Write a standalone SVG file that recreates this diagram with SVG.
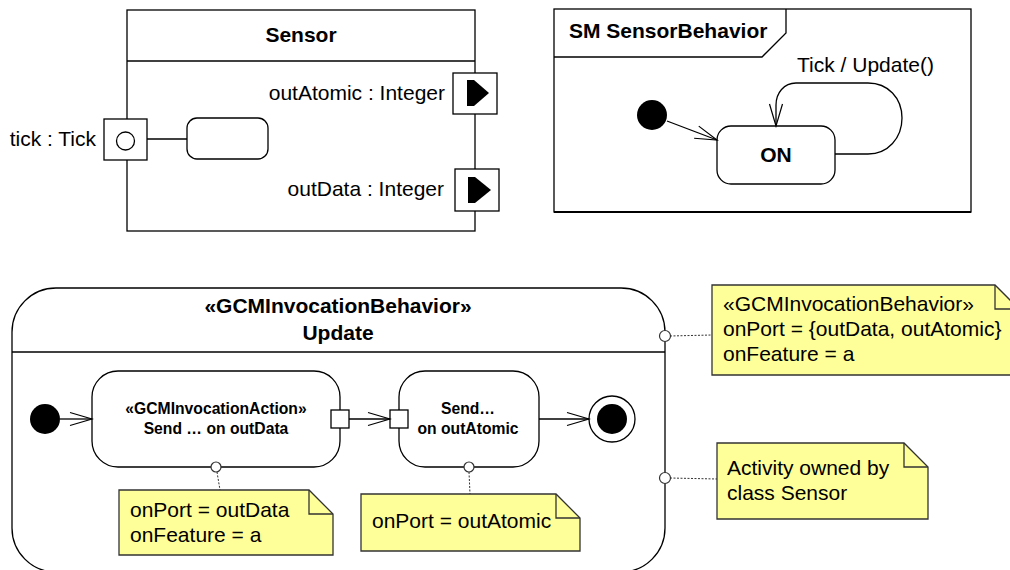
<svg xmlns="http://www.w3.org/2000/svg" width="1010" height="570" viewBox="0 0 1010 570">
<defs>
<style>
.ln{fill:none;stroke:#000;stroke-width:1.3}
.box{fill:#fff;stroke:#000;stroke-width:1.3}
.note{fill:#ffff99;stroke:#333;stroke-width:1.3}
.fold{fill:none;stroke:#333;stroke-width:1.3}
.dash{fill:none;stroke:#333;stroke-width:1;stroke-dasharray:2,1.5}
.anch{fill:#fff;stroke:#333;stroke-width:1.2}
.t{font-family:"Liberation Sans",Arial,sans-serif;font-size:21px;fill:#000}
.b{font-family:"Liberation Sans",Arial,sans-serif;font-size:21px;font-weight:bold;fill:#000}
.s{font-family:"Liberation Sans",Arial,sans-serif;font-size:15.7px;font-weight:bold;fill:#000}
</style>
<marker id="open" viewBox="-1 -8 25 16" refX="22" refY="0" markerWidth="25" markerHeight="16" markerUnits="userSpaceOnUse" orient="auto">
<path d="M0,-6.5 L22,0 L0,6.5" fill="none" stroke="#000" stroke-width="1.2"/>
</marker>
</defs>
<rect width="1010" height="570" fill="#fff"/>

<g id="sensor">
<rect class="box" x="127" y="10" width="348" height="221"/>
<line class="ln" x1="127" y1="61" x2="475" y2="61"/>
<text class="b" x="301" y="42" text-anchor="middle">Sensor</text>
<rect class="box" x="187" y="118" width="81" height="41" rx="10"/>
</g>
<g id="port-tick">
<rect class="box" x="104" y="119" width="43" height="41"/>
<circle class="ln" cx="125.5" cy="141" r="9"/>
<text class="t" x="96" y="146" text-anchor="end">tick : Tick</text>
</g>
<g id="port-outAtomic">
<rect class="box" x="453" y="73" width="44" height="41"/>
<path d="M467,80 L474,80 L489,93 L474,106 L467,106 Z" fill="#000"/>
<text class="t" x="445" y="100" text-anchor="end">outAtomic : Integer</text>
</g>
<g id="port-outData">
<rect class="box" x="455" y="169" width="44" height="42"/>
<path d="M468,177 L475,177 L491,190 L475,203 L468,203 Z" fill="#000"/>
<text class="t" x="444" y="196" text-anchor="end">outData : Integer</text>
</g>

<g id="sm-frame">
<rect x="554" y="9" width="417" height="203" fill="#fff" stroke="#000" stroke-width="1.3"/>
<line x1="554" y1="212" x2="971" y2="212" stroke="#000" stroke-width="2"/>
<path class="ln" d="M554,57 L762,57 L786,33 L786,9"/>
<text class="b" x="569" y="38">SM SensorBehavior</text>
</g>
<g id="sm-initial">
<circle cx="652" cy="115" r="15" fill="#000"/>
</g>
<g id="state-on">
<rect class="box" x="717" y="126" width="118" height="58" rx="14"/>
<text class="b" x="776" y="162" text-anchor="middle">ON</text>
</g>

<g id="activity">
<rect x="12" y="288" width="653" height="284" rx="44" fill="#fff" stroke="#000" stroke-width="1.3"/>
<line class="ln" x1="12" y1="352" x2="665" y2="352"/>
<text class="b" x="338" y="313" text-anchor="middle">«GCMInvocationBehavior»</text>
<text class="b" x="338" y="340" text-anchor="middle">Update</text>
</g>
<g id="act-initial">
<circle cx="45" cy="419" r="15" fill="#000"/>
</g>
<g id="action-send-outData">
<rect class="box" x="92" y="371" width="248" height="96" rx="26"/>
<text class="s" x="216" y="414" text-anchor="middle">«GCMInvocationAction»</text>
<text class="s" x="216" y="434" text-anchor="middle">Send … on outData</text>
<rect class="box" x="331" y="410" width="18" height="18"/>
</g>
<g id="action-send-outAtomic">
<rect class="box" x="399" y="371" width="140" height="96" rx="26"/>
<text class="s" x="468" y="414" text-anchor="middle">Send…</text>
<text class="s" x="468" y="434" text-anchor="middle">on outAtomic</text>
<rect class="box" x="390" y="410" width="18" height="18"/>
</g>
<g id="act-final">
<circle cx="612" cy="419" r="23" fill="#fff" stroke="#000" stroke-width="1.3"/>
<circle cx="612" cy="419" r="15" fill="#000"/>
</g>

<g id="note-behavior">
<path class="note" d="M712,285 L995,285 L1019,309 L1019,375 L712,375 Z"/>
<path class="fold" d="M995,285 L995,309 L1019,309"/>
<text class="t" x="723" y="311">«GCMInvocationBehavior»</text>
<text class="t" x="723" y="336">onPort = {outData, outAtomic}</text>
<text class="t" x="723" y="361">onFeature = a</text>
</g>
<g id="note-owned">
<path class="note" d="M717,443 L904,443 L928,467 L928,519 L717,519 Z"/>
<path class="fold" d="M904,443 L904,467 L928,467"/>
<text class="t" x="727" y="475">Activity owned by</text>
<text class="t" x="727" y="500">class Sensor</text>
</g>
<g id="note-outData">
<path class="note" d="M119,490 L309,490 L333,514 L333,555 L119,555 Z"/>
<path class="fold" d="M309,490 L309,514 L333,514"/>
<text class="t" x="130" y="517">onPort = outData</text>
<text class="t" x="130" y="542">onFeature = a</text>
</g>
<g id="note-outAtomic">
<path class="note" d="M361,494 L556,494 L580,518 L580,551 L361,551 Z"/>
<path class="fold" d="M556,494 L556,518 L580,518"/>
<text class="t" x="372" y="528">onPort = outAtomic</text>
</g>

<g id="connectors">
<line class="ln" x1="147" y1="139" x2="187" y2="139"/>
<line class="ln" x1="667" y1="121" x2="717" y2="140" marker-end="url(#open)"/>
<path class="ln" d="M835,154 L868,154 C888,154 902,138 902,118 C902,98 888,83 868,83 L796,83 C784,83 776,93 776,105 L776,126" marker-end="url(#open)"/>
<text class="t" x="797" y="72">Tick / Update()</text>
<line class="ln" x1="60" y1="419" x2="92" y2="419" marker-end="url(#open)"/>
<line class="ln" x1="349" y1="419" x2="390" y2="419" marker-end="url(#open)"/>
<line class="ln" x1="539" y1="419" x2="589" y2="419" marker-end="url(#open)"/>
<line class="dash" x1="217" y1="472" x2="220" y2="490"/>
<circle class="anch" cx="216" cy="467" r="5"/>
<line class="dash" x1="469" y1="472" x2="470" y2="494"/>
<circle class="anch" cx="469" cy="467" r="5"/>
<line class="dash" x1="670" y1="336" x2="712" y2="335"/>
<circle class="anch" cx="665" cy="336" r="5.5"/>
<line class="dash" x1="670" y1="478" x2="717" y2="479"/>
<circle class="anch" cx="665" cy="478" r="5.5"/>
</g>
</svg>
